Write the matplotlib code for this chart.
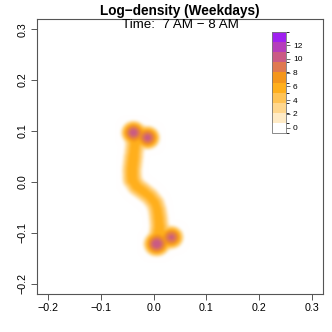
import numpy as np
import matplotlib
matplotlib.use("Agg")
import matplotlib.pyplot as plt
from matplotlib.colors import ListedColormap, BoundaryNorm
from matplotlib.cm import ScalarMappable

plt.rcParams['font.family'] = ['Liberation Sans', 'DejaVu Sans']

# track of the dense area (x, y), and log-strength of each segment
path_x = [-0.011, -0.038, -0.035, -0.038, -0.041, -0.040, -0.032, -0.019, -0.007,
          0.003, 0.007, 0.009, 0.011, 0.009, 0.006, 0.034]
path_y = [0.087, 0.097, 0.076, 0.050, 0.023, 0.004, -0.009, -0.019, -0.029,
          -0.042, -0.055, -0.068, -0.088, -0.108, -0.122, -0.109]
seg_level = [6.7, 6.3, 6.2, 6.4, 6.4, 6.1, 6.0, 5.9, 5.9, 5.9, 6.0, 6.1, 6.3, 6.5, 6.7]

# hot spots: centre, peak log-density, spread
hot_x = [-0.038, -0.011, 0.006, 0.034]
hot_y = [0.097, 0.087, -0.122, -0.109]
hot_peak = [10.3, 10.1, 10.6, 9.8]
hot_size = [0.0055, 0.0055, 0.0058, 0.0055]

levels = np.linspace(-0.8, 13.9, 11)
colors = ["#FFFFFF", "#FFEBC6", "#FFD78E", "#FFC355", "#FFAF1C",
          "#F4961B", "#DF7950", "#CA5B85", "#B53EBB", "#A020F0"]
cbar_ticks = [0, 2, 4, 6, 8, 10, 12]
xticks = [-0.2, -0.1, 0.0, 0.1, 0.2, 0.3]
yticks = [-0.2, -0.1, 0.0, 0.1, 0.2, 0.3]
lim = (-0.22, 0.32)

# log-density field on a grid
g = np.linspace(lim[0], lim[1], 540)
X, Y = np.meshgrid(g, g)
sig = 0.0058
dens = np.zeros_like(X)
for k in range(len(path_x) - 1):
    ax_, ay_ = path_x[k], path_y[k]
    bx, by = path_x[k + 1], path_y[k + 1]
    vx, vy = bx - ax_, by - ay_
    t = ((X - ax_) * vx + (Y - ay_) * vy) / (vx * vx + vy * vy)
    t = np.clip(t, 0, 1)
    d2 = (X - ax_ - t * vx) ** 2 + (Y - ay_ - t * vy) ** 2
    dens = np.maximum(dens, np.exp(seg_level[k] - d2 / (2 * sig ** 2)))
for hx, hy, hp, hs in zip(hot_x, hot_y, hot_peak, hot_size):
    dens += np.exp(hp - ((X - hx) ** 2 + (Y - hy) ** 2) / (2 * hs ** 2))
field = np.log(dens + 1e-12)

cmap = ListedColormap(colors)
cmap.set_under("white")
norm = BoundaryNorm(levels, cmap.N)
rgba = cmap(norm(field))

# soften the edges a little
kx = np.arange(-10, 11)
kern = np.exp(-kx ** 2 / (2 * 2.6 ** 2))
kern /= kern.sum()
for axis in (0, 1):
    pad = [(0, 0)] * 3
    pad[axis] = (10, 10)
    padded = np.pad(rgba, pad, mode="edge")
    rgba = np.apply_along_axis(lambda v: np.convolve(v, kern, mode="valid"), axis, padded)

fig = plt.figure(figsize=(3.32, 3.32), dpi=100)
ax = fig.add_axes([37 / 332, 38 / 332, 286 / 332, 275 / 332])
ax.imshow(np.clip(rgba, 0, 1), extent=(lim[0], lim[1], lim[0], lim[1]), origin="lower",
          aspect="auto", interpolation="bilinear")
ax.set_xlim(lim)
ax.set_ylim(lim)
ax.set_xticks(xticks)
ax.set_yticks(yticks)
ax.set_xticklabels([f"{v:.1f}".replace("-", "\u2212") for v in xticks])
ax.set_yticklabels([f"{v:.1f}".replace("-", "\u2212") for v in yticks], rotation=90, va="center")
ax.tick_params(labelsize=7.7, length=4, width=0.7, color="#555555", pad=2.5)
for s in ax.spines.values():
    s.set_color("#555555")
    s.set_linewidth(0.8)

fig.text(180 / 332, 1 - 10.5 / 332, "Log\u2212density (Weekdays)", ha="center", va="center",
         fontsize=9.8, fontweight="bold")
fig.text(180 / 332, 1 - 24.5 / 332, "Time:  7 AM \u2212 8 AM", ha="center", va="center",
         fontsize=9.6)

cax = fig.add_axes([272 / 332, (332 - 133) / 332, 14 / 332, 101 / 332])
cb = fig.colorbar(ScalarMappable(norm=norm, cmap=cmap), cax=cax, ticks=cbar_ticks)
cb.outline.set_edgecolor("#777777")
cb.outline.set_linewidth(0.6)
cax.tick_params(labelsize=6, length=3, width=0.6, color="#555555", pad=2)

fig.savefig("out.png", dpi=100)
